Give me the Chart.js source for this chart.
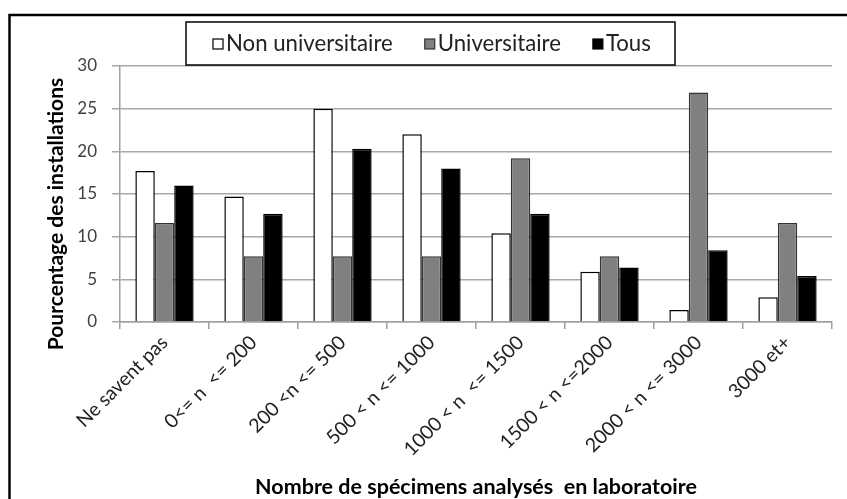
<!DOCTYPE html>
<html>
<head>
<meta charset="utf-8">
<script src="https://cdn.jsdelivr.net/npm/chart.js@4.4.1/dist/chart.umd.min.js"></script>
<style>
  html, body { margin: 0; padding: 0; background: #fff; }
  #wrap { width: 847px; height: 499px; }
</style>
</head>
<body>
<div id="wrap"><canvas id="chart" width="847" height="499"></canvas></div>
<script>
// donnees
var categories = ['Ne savent pas', '0<= n  <= 200', '200 <n <= 500', '500 < n <= 1000',
  '1000 < n  <= 1500', '1500 < n <=2000', '2000 < n <= 3000', '3000 et+'];
var nonUniv = [17.7, 14.7, 25.0, 22.0, 10.4, 5.9, 1.4, 2.9];
var univ = [11.6, 7.7, 7.7, 7.7, 19.2, 7.7, 26.9, 11.6];
var tous = [16.0, 12.7, 20.3, 18.0, 12.7, 6.4, 8.4, 5.4];
var yTicks = [0, 5, 10, 15, 20, 25, 30];

var FONT = 'Lato, "DejaVu Sans Condensed", sans-serif';
var xTitle = 'Nombre de spécimens analysés  en laboratoire';
var yTitle = 'Pourcentage des installations';

// taille de police pour qu'un texte ait la largeur voulue
function fitSize(text, weight, width) {
  var c = document.createElement('canvas').getContext('2d');
  c.font = weight + ' 100px ' + FONT;
  return Math.round(100 * width / c.measureText(text).width * 10) / 10;
}
var legendSize = fitSize('Non universitaire', 'normal', 167);
var xTitleSize = fitSize(xTitle, 'bold', 442);
var yTitleSize = fitSize(yTitle, 'bold', 272);

// cadre + legende + titres des axes
var decor = {
  id: 'decor',
  afterDraw: function (chart) {
    var ctx = chart.ctx;
    ctx.save();
    // cadre
    ctx.strokeStyle = '#000';
    ctx.lineWidth = 2.5;
    ctx.beginPath();
    ctx.moveTo(847, 15);
    ctx.lineTo(9.5, 15);
    ctx.lineTo(9.5, 499);
    ctx.stroke();

    // legende
    ctx.fillStyle = '#fff';
    ctx.fillRect(186, 22, 489, 43);
    ctx.strokeStyle = '#000';
    ctx.lineWidth = 1.5;
    ctx.strokeRect(186, 22, 489, 43);
    ctx.font = legendSize + 'px ' + FONT;
    ctx.textBaseline = 'alphabetic';
    ctx.textAlign = 'left';
    var x = 213;
    chart.data.datasets.forEach(function (ds) {
      ctx.fillStyle = ds.backgroundColor;
      ctx.fillRect(x, 39, 10, 10);
      ctx.strokeStyle = ds.borderColor;
      ctx.lineWidth = 1.2;
      ctx.strokeRect(x, 39, 10, 10);
      ctx.fillStyle = '#222';
      ctx.fillText(ds.label, x + 13, 51);
      x += 13 + ctx.measureText(ds.label).width + 32;
    });

    // titres
    ctx.fillStyle = '#000';
    ctx.textAlign = 'center';
    ctx.textBaseline = 'middle';
    ctx.font = 'bold ' + xTitleSize + 'px ' + FONT;
    ctx.fillText(xTitle, 476, 487);
    ctx.font = 'bold ' + yTitleSize + 'px ' + FONT;
    ctx.translate(56, 214);
    ctx.rotate(-Math.PI / 2);
    ctx.fillText(yTitle, 0, 0);
    ctx.restore();
  }
};

new Chart(document.getElementById('chart'), {
  type: 'bar',
  data: {
    labels: categories,
    datasets: [
      { label: 'Non universitaire', data: nonUniv, backgroundColor: '#ffffff', borderColor: '#000', borderWidth: 1.5 },
      { label: 'Universitaire', data: univ, backgroundColor: '#808080', borderColor: '#333', borderWidth: 1.5 },
      { label: 'Tous', data: tous, backgroundColor: '#000000', borderColor: '#000', borderWidth: 1.5 }
    ]
  },
  options: {
    responsive: false,
    animation: false,
    layout: { padding: { left: 0, right: 15, top: 66, bottom: 0 } },
    plugins: { legend: { display: false }, tooltip: { enabled: false } },
    datasets: { bar: { categoryPercentage: 0.655, barPercentage: 1 } },
    scales: {
      x: {
        grid: { display: true, drawOnChartArea: false, drawTicks: true, tickLength: 7, color: '#a0a0a0', lineWidth: 1.5 },
        border: { color: '#a0a0a0', width: 1.5 },
        ticks: { maxRotation: 45, minRotation: 45, color: '#222', font: { family: FONT, size: 19.5 }, padding: 2 },
        afterFit: function (scale) { scale.height = 177; }
      },
      y: {
        min: 0,
        max: 30,
        afterBuildTicks: function (scale) { scale.ticks = yTicks.map(function (v) { return { value: v }; }); },
        grid: { color: '#a8a8a8', lineWidth: 1.5, tickLength: 8 },
        border: { color: '#a0a0a0', width: 1.5 },
        ticks: { color: '#404040', font: { family: FONT, size: 17 }, padding: 15 },
        afterFit: function (scale) { scale.width = 120; }
      }
    }
  },
  plugins: [decor]
});
</script>
</body>
</html>
